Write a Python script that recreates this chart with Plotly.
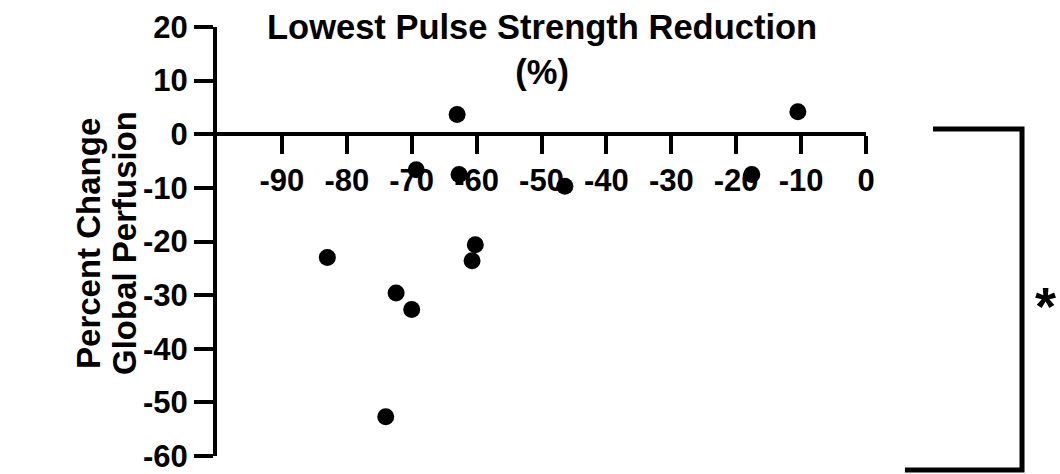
import plotly.graph_objects as go

# Lowest pulse strength reduction (%) vs. percent change in global perfusion
pulse_reduction = [-83.0, -72.4, -70.0, -74.0, -69.3, -63.0, -62.7, -60.2, -60.7, -46.4, -17.6, -10.5]
perfusion_change = [-23.0, -29.6, -32.7, -52.7, -6.6, 3.7, -7.5, -20.6, -23.6, -9.7, -7.5, 4.2]

x_ticks = [-90, -80, -70, -60, -50, -40, -30, -20, -10, 0]
y_ticks = [20, 10, 0, -10, -20, -30, -40, -50, -60]
y_title_lines = ["Percent Change", "Global Perfusion"]

FONT = "Liberation Sans, Arial, Helvetica, sans-serif"

fig = go.Figure()
fig.add_trace(go.Scatter(
    x=pulse_reduction,
    y=perfusion_change,
    mode="markers",
    marker=dict(size=17, color="black", line=dict(width=0)),
    cliponaxis=False,
    showlegend=False,
))

fig.update_layout(
    width=1060,
    height=474,
    margin=dict(l=217, r=194, t=27, b=18, autoexpand=False),
    paper_bgcolor="white",
    plot_bgcolor="white",
    font=dict(family=FONT, color="black", size=31, weight="bold"),
    xaxis=dict(
        range=[-100, 0],
        tickvals=x_ticks,
        ticktext=[str(v) for v in x_ticks],
        anchor="free",
        position=0.75,
        side="bottom",
        showline=True,
        linewidth=4,
        linecolor="black",
        ticks="outside",
        ticklen=18,
        tickwidth=4,
        tickcolor="black",
        showgrid=False,
        zeroline=False,
        automargin=False,
        ticklabeloverflow="allow",
        tickfont=dict(family=FONT, size=31, color="black", weight="bold"),
    ),
    yaxis=dict(
        range=[-60, 20],
        tickvals=y_ticks,
        ticktext=[str(v) for v in y_ticks],
        showline=True,
        linewidth=4,
        linecolor="black",
        ticks="outside",
        ticklen=19,
        tickwidth=4,
        tickcolor="black",
        showgrid=False,
        zeroline=False,
        automargin=False,
        ticklabeloverflow="allow",
        tickfont=dict(family=FONT, size=31, color="black", weight="bold"),
    ),
)

# Y-axis title: two rotated lines
for line_text, x_pos in zip(y_title_lines, [-0.1988, -0.1433]):
    fig.add_annotation(
        text=line_text,
        xref="paper", yref="paper",
        x=x_pos, y=0.4965,
        xanchor="center", yanchor="middle",
        textangle=-90,
        showarrow=False,
        font=dict(family=FONT, size=33, color="black", weight="bold"),
    )

# X-axis title placed above the plot
fig.add_annotation(
    text="Lowest Pulse Strength Reduction<br>(%)",
    xref="paper", yref="paper",
    x=0.5, y=1.0478,
    xanchor="center", yanchor="top",
    showarrow=False,
    font=dict(family=FONT, size=34.5, color="black", weight="bold"),
)

# Significance bracket on the right
fig.add_shape(
    type="path",
    xref="paper", yref="paper",
    path="M 1.1032 0.7622 L 1.2404 0.7622 L 1.2404 -0.0326 L 1.060 -0.0326",
    line=dict(color="black", width=5),
)
fig.add_annotation(
    text="*",
    xref="paper", yref="paper",
    x=1.276, y=0.3497,
    xanchor="center", yanchor="middle",
    showarrow=False,
    font=dict(family=FONT, size=54, color="black", weight="bold"),
)

fig.write_html("out.html")
